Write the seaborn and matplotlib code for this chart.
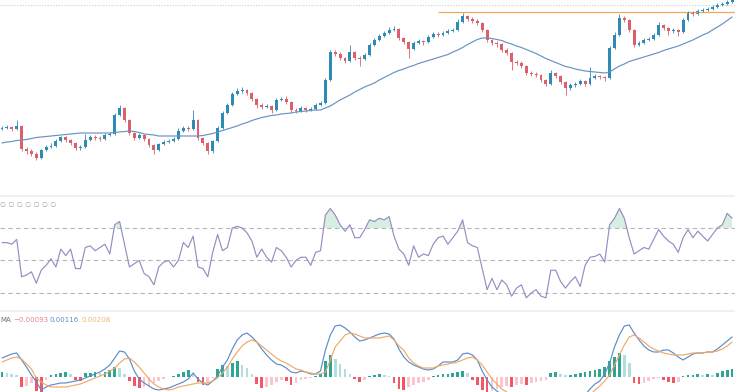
import matplotlib
matplotlib.use("Agg")
import matplotlib.pyplot as plt
import numpy as np
import pandas as pd
import seaborn as sns

# price candles (arbitrary price units, no axis shown in the screenshot)
opens = [71, 72, 73, 71, 74, 51, 49, 46, 42, 50,
         53, 54, 59, 63, 60, 57, 52, 53, 60, 63,
         62, 61, 65, 66, 85, 92, 80, 67, 62, 65,
         61, 55, 50, 56, 58, 59, 61, 69, 72, 71,
         80, 62, 57, 49, 59, 72, 87, 95, 106, 109,
         110, 107, 101, 95, 93, 94, 90, 100, 101, 98,
         90, 89, 92, 90, 91, 95, 97, 120, 148, 146,
         142, 139, 148, 142, 141, 145, 155, 160, 164, 167,
         170, 171, 162, 158, 151, 157, 159, 158, 163, 166,
         165, 167, 169, 170, 178, 184, 181, 179, 177, 170,
         160, 157, 156, 150, 147, 138, 137, 134, 127, 126,
         125, 120, 116, 127, 124, 118, 112, 115, 116, 119,
         116, 122, 124, 123, 122, 152, 165, 182, 180, 170,
         155, 157, 160, 161, 165, 175, 172, 169, 170, 168,
         180, 187, 186, 189, 190, 191, 193, 195, 196, 198]
closes = [72, 73, 71, 74, 51, 49, 46, 42, 50, 53,
          54, 59, 63, 60, 57, 52, 53, 60, 63, 62,
          61, 65, 66, 85, 92, 80, 67, 62, 65, 61,
          55, 50, 56, 58, 59, 61, 69, 72, 71, 80,
          62, 57, 49, 59, 72, 87, 95, 106, 109, 110,
          107, 101, 95, 93, 94, 90, 100, 101, 98, 90,
          89, 92, 90, 91, 95, 97, 120, 148, 146, 142,
          139, 148, 142, 141, 145, 155, 160, 164, 167, 170,
          171, 162, 158, 151, 157, 159, 158, 163, 166, 165,
          167, 169, 170, 178, 184, 181, 179, 177, 170, 160,
          157, 156, 150, 147, 138, 137, 134, 127, 126, 125,
          120, 116, 127, 124, 118, 112, 115, 116, 119, 116,
          122, 124, 123, 122, 152, 165, 182, 180, 170, 155,
          157, 160, 161, 165, 175, 172, 169, 170, 168, 180,
          187, 186, 189, 190, 191, 193, 195, 196, 198, 200]
highs = [74, 75, 74, 80, 75, 53, 51, 48, 51, 55,
         57, 61, 64, 64, 61, 58, 55, 66, 65, 65,
         64, 67, 68, 87, 95, 93, 81, 68, 67, 66,
         62, 56, 57, 60, 61, 63, 72, 74, 74, 90,
         81, 63, 58, 60, 74, 89, 97, 108, 112, 113,
         111, 108, 102, 97, 96, 95, 102, 103, 104, 99,
         92, 94, 93, 93, 97, 99, 122, 150, 150, 148,
         143, 155, 149, 144, 147, 157, 162, 166, 169, 173,
         174, 172, 163, 159, 159, 161, 160, 165, 168, 168,
         169, 171, 172, 181, 187, 185, 183, 181, 178, 171,
         161, 159, 157, 152, 148, 140, 139, 135, 129, 128,
         126, 121, 130, 128, 125, 119, 117, 118, 121, 120,
         133, 126, 125, 124, 154, 168, 186, 184, 181, 171,
         159, 162, 163, 167, 178, 176, 173, 172, 171, 182,
         189, 189, 191, 192, 193, 195, 197, 198, 200, 202]
lows = [70, 71, 69, 70, 49, 46, 44, 40, 41, 49,
        52, 53, 58, 58, 55, 50, 50, 52, 59, 60,
        59, 60, 64, 65, 84, 78, 65, 60, 61, 59,
        53, 46, 49, 55, 57, 58, 60, 68, 69, 70,
        60, 55, 46, 47, 58, 71, 86, 94, 105, 107,
        105, 99, 92, 91, 92, 87, 89, 99, 96, 88,
        87, 88, 88, 89, 90, 94, 96, 119, 144, 140,
        137, 138, 140, 134, 140, 144, 154, 159, 163, 166,
        169, 160, 156, 142, 150, 156, 155, 157, 162, 163,
        164, 166, 168, 169, 177, 179, 177, 175, 168, 158,
        155, 153, 148, 145, 130, 135, 132, 125, 124, 123,
        118, 114, 115, 122, 116, 105, 110, 113, 115, 114,
        115, 121, 121, 119, 121, 151, 164, 178, 168, 153,
        154, 156, 159, 160, 164, 170, 165, 167, 164, 167,
        179, 184, 185, 188, 189, 190, 192, 194, 195, 197]
ma_line = [57, 58, 58.5, 59.5, 60, 60.5, 61.5, 62.5, 63, 63.5,
           64, 64.5, 65, 65.5, 66, 66.5, 67, 67, 67, 67,
           67, 67, 67, 67.5, 68, 68.5, 69, 68.5, 67.5, 66,
           65.5, 65, 64, 64, 64, 64, 64, 64, 64, 64,
           64, 64.5, 65.5, 66.5, 68, 69.5, 71, 72.5, 74, 76,
           77.5, 79.5, 81, 82.5, 83.5, 84.5, 85, 86, 86.5, 87,
           88, 88.5, 89, 89.5, 90, 90, 92, 94, 97, 100,
           102.5, 105, 108, 110.5, 113, 115, 117, 120, 122.5, 125,
           127.5, 129.5, 131, 133, 134.5, 136.5, 138, 139.5, 141, 142.5,
           144, 145.5, 148, 150, 152.5, 155.5, 158, 160.5, 162, 162,
           161.5, 160.5, 159.5, 157.5, 156, 154, 152.5, 150.5, 148.5, 146.5,
           144, 141.5, 139.5, 137.5, 135.5, 133.5, 132.5, 131, 130, 129,
           128.5, 128, 127.5, 127, 128, 131, 134, 136, 138.5, 140,
           141.5, 143, 144.5, 146, 147.5, 149.5, 151, 152.5, 154, 156,
           158, 160, 162.5, 165, 167, 170, 173, 176, 179.5, 183]
resistance = 188
resistance_from = 89
top_level = 195

rsi = [61, 61, 60, 63, 40, 41, 43, 36, 44, 47,
       51, 46, 57, 53, 57, 45, 45, 58, 59, 56,
       58, 60, 54, 72, 74, 60, 46, 48, 50, 42,
       40, 35, 46, 49, 50, 46, 50, 61, 58, 65,
       46, 45, 40, 55, 66, 56, 58, 70, 71, 70,
       67, 62, 52, 57, 52, 49, 58, 56, 52, 46,
       50, 52, 52, 47, 55, 56, 78, 82, 78, 72,
       68, 72, 64, 64, 69, 75, 74, 76, 75, 77,
       65, 57, 54, 47, 59, 52, 54, 53, 60, 64,
       65, 60, 64, 68, 75, 61, 59, 58, 45, 32,
       39, 32, 38, 35, 28, 33, 35, 27, 30, 32,
       28, 27, 44, 44, 37, 33, 37, 40, 34, 47,
       52, 52.5, 54, 49, 72, 76, 82, 76, 64, 54,
       56, 58, 57, 63, 69, 65, 62, 60, 55, 64,
       69, 64, 68, 65, 62, 66, 70, 72, 79, 76]
rsi_levels = [70, 50, 30]

macd = [19, 21, 23, 24, 17, 10, 2, -5, -13, -10,
        -8, -7, -6, -6, -5, -4, -3, -1, 1, 3,
        5, 8, 12, 19, 26, 25, 18, 6, -2, -6,
        -9, -12, -13, -12, -11, -9, -7, -5, -2, 4,
        -2, -6, -8, -4, 1, 10, 17, 28, 37, 42,
        44, 40, 35, 28, 22, 17, 13, 12, 9, 5,
        4, 6, 5, 3, 3, 6, 27, 42, 51, 52,
        49, 45, 40, 36, 37, 39, 41, 43, 44, 43,
        38, 28, 20, 15, 12, 10, 8, 7, 8, 11,
        15, 15, 15, 17, 23, 24, 22, 17, 6, -3,
        -10, -14, -18, -21, -24, -26, -27, -29, -30, -31,
        -32, -33, -30, -28, -28, -29, -27, -25, -23, -18,
        -12, -7, -4, 3, 14, 30, 42, 51, 52, 44,
        37, 31, 27, 25, 25, 27, 27, 24, 20, 17,
        20, 23, 24, 24, 25, 25, 28, 32, 36, 40]
signal = [15, 17, 19, 20, 18, 13, 8, -1, -5, -8,
          -10, -10, -10, -10, -9, -8, -7, -5, -3, -1,
          1, 3, 6, 9, 14, 18, 19, 15, 10, 4,
          -2, -7, -10, -12, -13, -12, -10, -9, -8, -7,
          -6, -6, -6, -4, -1, 4, 10, 18, 25, 31,
          35, 37, 35, 31, 27, 23, 19, 16, 14, 11,
          8, 7, 5, 4, 3, 3, 5, 17, 30, 36,
          42, 44, 43, 41, 39, 39, 39, 39, 40, 41,
          37, 31, 27, 19, 14, 11, 9, 9, 9, 11,
          12, 13, 14, 15, 17, 19, 20, 17, 12, 5,
          -2, -7, -12, -15, -18, -20, -22, -24, -26, -27,
          -28, -29, -30, -29, -29, -28, -27, -26, -25, -22,
          -18, -13, -9, -4, 2, 12, 22, 32, 40, 42,
          39, 35, 31, 28, 26, 24, 23, 22, 22, 22,
          23, 24, 24, 24, 25, 25, 26, 28, 31, 35]
hist = [5, 4, 3, 2, -10, -9, -6, -14, -15, -3,
        2, 3, 4, 5, 3, -3, -4, 4, 4, 5,
        4, 5, 7, 10, 9, 3, -4, -9, -11, -10,
        -9, -6, -4, -2, 0.5, 1, 3, 5, 7, 3,
        -5, -8, -6, -1, 8, 12, 11, 14, 16, 12,
        9, 3, -7, -11, -10, -8, -5, -3, -4, -8,
        -6, -3, -2, -1, 1, 3, 16, 22, 18, 13,
        8, 3, -2, -5, -3, 1, 2, 3, 2, 1,
        -6, -12, -13, -10, -8, -6, -5, -3, 1, 2,
        3, 3, 4, 5, 6, 4, -3, -8, -13, -15,
        -14, -12, -10, -9, -10, -8, -7, -8, -6, -5,
        -4, -3, 4, 5, 3, 2, 2, 3, 4, 5,
        6, 7, 8, 10, 16, 20, 24, 22, 14, -6,
        -7, -6, -4, -2, -1, -3, -5, -6, -5, 1,
        2, 2, 3, 2, 3, 2, 4, 6, 7, 8]
legend_vals = ["\u22120.00093", "0.00116", "0.00208"]

UP = "#2E8BB5"
DOWN = "#DE5F6C"
W, H = 735, 392


def add_ax(fig, top, bottom):
    ax = fig.add_axes([0, 1 - bottom / H, 1, (bottom - top) / H])
    ax.set_xlim(-0.41, 149.59)
    ax.set_xticks([])
    ax.set_yticks([])
    for s in ax.spines.values():
        s.set_visible(False)
    ax.set_facecolor("white")
    return ax


def main():
    sns.set_theme(style="white")
    plt.rcParams["font.family"] = ["DejaVu Sans"]

    df = pd.DataFrame({"open": opens, "close": closes, "high": highs, "low": lows,
                       "ma": ma_line, "rsi": rsi, "macd": macd, "signal": signal,
                       "hist": hist})
    df["idx"] = np.arange(len(df))
    up = df["close"] >= df["open"]
    ccol = np.where(up, UP, DOWN)

    fig = plt.figure(figsize=(W / 100, H / 100), dpi=100)
    fig.patch.set_facecolor("white")

    # --- price panel
    ax = add_ax(fig, 0, 195)
    ax.set_ylim(5, 200)
    ax.axhline(top_level, color="#c9ccd3", lw=0.8, ls=(0, (1, 1.5)))
    ax.hlines(resistance, resistance_from, 149.6, color="#F2A65A", lw=0.9)
    ax.vlines(df["idx"], df["low"], df["high"], colors=ccol, lw=0.6)
    body_lo = np.minimum(df["open"], df["close"])
    body_h = np.maximum((df["close"] - df["open"]).abs(), 0.5)
    ax.bar(df["idx"], body_h, bottom=body_lo, width=0.6, color=ccol, linewidth=0)
    sns.lineplot(data=df, x="idx", y="ma", ax=ax, color="#6792C2", lw=0.85)
    ax.set_xlabel("")
    ax.set_ylabel("")

    # --- RSI panel
    ax_r = add_ax(fig, 196, 310)
    ax_r.set_ylim(19.5, 89.7)
    ax_r.spines["top"].set_visible(True)
    ax_r.spines["top"].set_color("#eceef2")
    for lvl in rsi_levels:
        ax_r.axhline(lvl, color="#b4b7be", lw=0.8, ls=(0, (4, 3)))
    r = df["rsi"].to_numpy()
    ax_r.fill_between(df["idx"], r, 70, where=r > 70, interpolate=True,
                      color="#8fd0a8", alpha=0.35, linewidth=0)
    sns.lineplot(data=df, x="idx", y="rsi", ax=ax_r, color="#958DC3", lw=0.85)
    ax_r.set_xlabel("")
    ax_r.set_ylabel("")
    fig.text(0.0, 1 - 205 / H, "\u2205 \u2205 \u2205 \u2205 \u2205 \u2205 \u2205",
             fontsize=5, color="#a0a4ad", va="center", ha="left")

    # --- MACD panel
    ax_m = add_ax(fig, 311, 392)
    ax_m.set_ylim(-15, 66)
    ax_m.spines["top"].set_visible(True)
    ax_m.spines["top"].set_color("#eceef2")
    h = df["hist"].to_numpy()
    prev = np.r_[h[0], h[:-1]]
    hcol = np.where(h >= 0,
                    np.where(h >= prev, "#2FA596", "#B2DFDB"),
                    np.where(h <= prev, "#EF5864", "#F8C6CC"))
    ax_m.bar(df["idx"], h, width=0.55, color=hcol, linewidth=0)
    sns.lineplot(data=df, x="idx", y="macd", ax=ax_m, color="#5B8DCB", lw=0.85)
    sns.lineplot(data=df, x="idx", y="signal", ax=ax_m, color="#EFAA68", lw=0.85)
    ax_m.set_xlabel("")
    ax_m.set_ylabel("")

    ty = 1 - 320 / H
    fig.text(0.0, ty, "MA", fontsize=5, color="#6b6f78", va="center")
    for x, txt, col in zip([13, 49, 81], legend_vals, ["#E8848E", "#5B8DCB", "#EFB870"]):
        fig.text(x / W, ty, txt, fontsize=5, color=col, va="center")

    fig.savefig("out.png", dpi=100, facecolor="white")
    plt.close(fig)


if __name__ == "__main__":
    main()
